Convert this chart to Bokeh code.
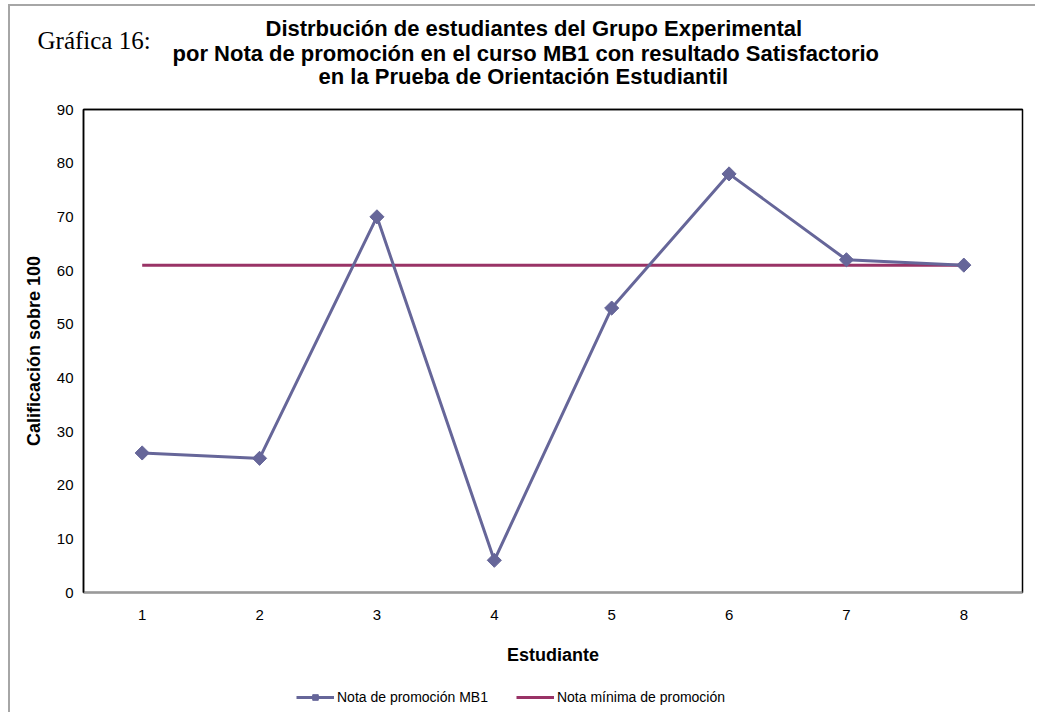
from bokeh.plotting import figure
from bokeh.layouts import column
from bokeh.models import (Range1d, FixedTicker, Legend, LegendItem, ColumnDataSource,
                          Title, LinearAxis)
from bokeh.embed import file_html
from bokeh.resources import INLINE
import math

# ---- data ----
estudiantes = [1, 2, 3, 4, 5, 6, 7, 8]
nota_mb1 = [26, 25, 70, 6, 53, 78, 62, 61]
nota_minima = [61, 61, 61, 61, 61, 61, 61, 61]
y_ticks = [0, 10, 20, 30, 40, 50, 60, 70, 80, 90]
serie_labels = ["Nota de promoción MB1", "Nota mínima de promoción"]

titulo = ["Distrbución de estudiantes del Grupo Experimental",
          "por Nota de promoción en el curso MB1 con resultado Satisfactorio",
          "en la Prueba de Orientación Estudiantil"]
grafica = "Gráfica 16:"

FONT = "Liberation Sans"
C_MB1 = "#666699"
C_MIN = "#993366"
GRAY = "#a6a6a6"
W = 1035

p = figure(width=W, height=672, output_backend="svg", toolbar_location=None,
           x_range=Range1d(0.5, 8.5), y_range=Range1d(0, 90),
           min_border_left=83, min_border_right=13, min_border_top=109,
           min_border_bottom=80)
p.grid.visible = False
p.outline_line_color = "black"
p.outline_line_width = 1.5
p.background_fill_color = "white"
p.border_fill_alpha = 0
p.styles = {"background":
            f"linear-gradient({GRAY},{GRAY}) 8px 4px / 2px 100% no-repeat,"
            f"linear-gradient({GRAY},{GRAY}) 8px 4px / 100% 2px no-repeat, white"}

xa = p.xaxis[0]
xa.ticker = FixedTicker(ticks=estudiantes)
xa.axis_line_color = "#9a9a9a"
xa.axis_line_width = 2
xa.major_tick_line_color = None
xa.minor_tick_line_color = None
xa.major_tick_out = 0
xa.major_label_standoff = 17
xa.major_label_text_font = FONT
xa.major_label_text_font_size = "15px"
xa.major_label_text_color = "black"
xa.axis_label = "Estudiante"
xa.axis_label_text_font = FONT
xa.axis_label_text_font_style = "bold"
xa.axis_label_text_font_size = "18px"
xa.axis_label_text_color = "black"
xa.axis_label_standoff = 22

ya = p.yaxis[0]
ya.ticker = FixedTicker(ticks=y_ticks)
ya.axis_line_color = "black"
ya.axis_line_width = 1.5
ya.major_tick_line_color = None
ya.minor_tick_line_color = None
ya.major_tick_out = 0
ya.major_label_standoff = 10
ya.major_label_text_font = FONT
ya.major_label_text_font_size = "15px"
ya.major_label_text_color = "black"
ya.axis_label = "Calificación sobre 100"
ya.axis_label_text_font = FONT
ya.axis_label_text_font_style = "bold"
ya.axis_label_text_font_size = "18px"
ya.axis_label_text_color = "black"
ya.axis_label_standoff = 10

# top frame line; its (invisible) tick keeps the titles away from the frame
top_axis = LinearAxis(ticker=FixedTicker(ticks=[4.5]), axis_line_color="black",
                      axis_line_width=1.5, major_tick_line_color=None,
                      minor_tick_line_color=None, major_tick_out=22, major_tick_in=0,
                      major_label_standoff=0, major_label_overrides={4.5: ""},
                      major_label_text_font_size="0px")
p.add_layout(top_axis, "above")

src = ColumnDataSource(dict(x=estudiantes, mb1=nota_mb1, minima=nota_minima))
p.line("x", "minima", source=src, line_color=C_MIN, line_width=3)
p.line("x", "mb1", source=src, line_color=C_MB1, line_width=3)
p.scatter("x", "mb1", source=src, marker="square", angle=math.pi / 4,
          size=10, fill_color=C_MB1, line_color=C_MB1)

# titles, added from the frame outward
title_left = [182, 89, 235]
def add_title(i):
    p.add_layout(Title(text=titulo[i], align="left", offset=title_left[i],
                       standoff=-4, vertical_align="middle", text_font=FONT,
                       text_font_style="bold", text_font_size="22px",
                       text_color="black"), "above")

add_title(2)
add_title(1)
p.add_layout(Title(text=grafica, align="left", offset=-46, standoff=-27,
                   vertical_align="middle", text_font="Liberation Serif",
                   text_font_style="normal", text_font_size="25px",
                   text_color="black"), "above")
add_title(0)

# ---------------- legend strip ----------------
# the same series are drawn here out of view, only to give the legend its glyphs
lg = figure(width=W, height=40, output_backend="svg", toolbar_location=None,
            x_range=Range1d(100, 101), y_range=Range1d(0, 1),
            x_axis_type=None, y_axis_type=None,
            min_border_left=83, min_border_right=13, min_border_top=0,
            min_border_bottom=0)
lg.grid.visible = False
lg.outline_line_color = None
lg.background_fill_color = "white"
lg.border_fill_alpha = 0
lg.styles = {"background":
             f"linear-gradient({GRAY},{GRAY}) 8px 0px / 2px 100% no-repeat, white"}
l_mb1 = lg.line("x", "mb1", source=src, line_color=C_MB1, line_width=3)
l_pts = lg.scatter("x", "mb1", source=src, marker="square", angle=math.pi / 4,
                   size=10, fill_color=C_MB1, line_color=C_MB1)
l_min = lg.line("x", "minima", source=src, line_color=C_MIN, line_width=3)

legend = Legend(items=[LegendItem(label=serie_labels[0], renderers=[l_mb1, l_pts]),
                       LegendItem(label=serie_labels[1], renderers=[l_min])],
                orientation="horizontal", location=(213, 7),
                label_text_font=FONT, label_text_font_size="14px",
                label_text_color="black",
                glyph_width=38, glyph_height=14, label_standoff=3, spacing=28,
                padding=2, margin=0, border_line_color=None,
                background_fill_alpha=0)
lg.add_layout(legend)

layout = column(p, lg, spacing=0)
open("out.html", "w").write(file_html(layout, INLINE))
